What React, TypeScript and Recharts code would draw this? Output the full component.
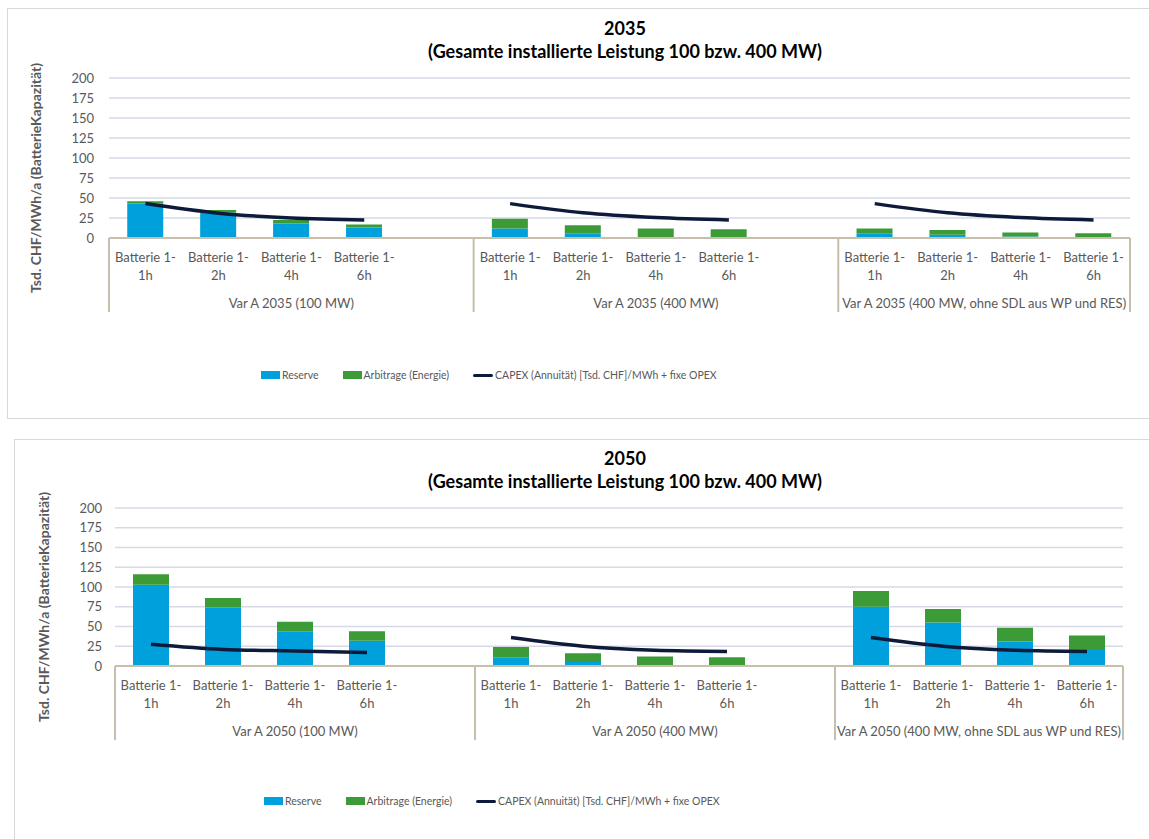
import React from 'react';
import { ComposedChart, Bar, Line, XAxis, YAxis, CartesianGrid, Legend } from 'recharts';

// values (Tsd. CHF/MWh/a)
const durations = ['1h', '2h', '4h', '6h'];
const yTicks = [0, 25, 50, 75, 100, 125, 150, 175, 200];
const seriesNames = ['Reserve', 'Arbitrage (Energie)', 'CAPEX (Annuität) [Tsd. CHF]/MWh + fixe OPEX'];

const groups2035 = ['Var A 2035 (100 MW)', 'Var A 2035 (400 MW)', 'Var A 2035 (400 MW, ohne SDL aus WP und RES)'];
const reserve2035 = [[43, 32, 18, 13], [12, 6, 0, 0], [6, 4, 2, 0.5]];
const arbitrage2035 = [[3, 3, 4.5, 4], [12, 10, 12, 11], [6, 6, 5, 5.5]];
const capex2035 = [[43, 31, 25, 22.5], [43, 31.5, 25.5, 22.5], [43, 31.5, 25.5, 22.5]];

const groups2050 = ['Var A 2050 (100 MW)', 'Var A 2050 (400 MW)', 'Var A 2050 (400 MW, ohne SDL aus WP und RES)'];
const reserve2050 = [[103, 74, 44, 32], [11, 5, 0, 0], [75, 55, 31, 21.5]];
const arbitrage2050 = [[13, 12, 12, 12], [13, 11, 12, 11], [20, 17, 17.5, 17]];
const capex2050 = [[27.5, 21, 19, 17], [36, 25, 20, 18.5], [36, 25, 20, 18.5]];

const COLORS = { reserve: '#00a0dc', arbitrage: '#3d9b37', capex: '#0d1a3a' };
const FONT = 'Lato, "Open Sans", sans-serif';
const TEXT = '#595959';
const AXIS = '#c6bfab';

interface Row {
  id: string;
  dur: string;
  group: number;
  pos: number;
  reserve: number | null;
  arbitrage: number | null;
  capex: number | null;
}

function buildRows(groups: string[], reserve: number[][], arbitrage: number[][], capex: number[][]): Row[] {
  const rows: Row[] = [];
  groups.forEach((g, gi) => {
    durations.forEach((d, di) => {
      rows.push({ id: `${gi}-${d}`, dur: d, group: gi, pos: di, reserve: reserve[gi][di], arbitrage: arbitrage[gi][di], capex: capex[gi][di] });
    });
    // empty slot between the groups
    if (gi < groups.length - 1) {
      rows.push({ id: `${gi}-gap`, dur: '', group: gi, pos: 4, reserve: null, arbitrage: null, capex: null });
    }
  });
  return rows;
}

const makeTick = (rows: Row[], groups: string[]) => (props: any) => {
  const { x, y, payload, width, visibleTicksCount } = props;
  const row = rows[payload.index];
  if (!row) return <g />;
  const slot = width && visibleTicksCount ? width / visibleTicksCount : 73;
  const last = row.group === groups.length - 1;
  const span = last ? durations.length : durations.length + 1;
  const start = x - slot / 2;
  return (
    <g>
      {row.dur && (
        <text x={x} y={y} textAnchor="middle" fill={TEXT} fontSize={13} fontFamily={FONT}>
          <tspan x={x} dy={23.5}>Batterie 1-</tspan>
          <tspan x={x} dy={18}>{row.dur}</tspan>
        </text>
      )}
      {row.pos === 0 && (
        <>
          <line x1={start} x2={start} y1={y} y2={y + 74} stroke={AXIS} strokeWidth={2} />
          <text x={start + (span * slot) / 2} y={y + 69.5} textAnchor="middle" fill={TEXT} fontSize={13} fontFamily={FONT}>
            {groups[row.group]}
          </text>
          {last && <line x1={start + span * slot} x2={start + span * slot} y1={y} y2={y + 74} stroke={AXIS} strokeWidth={2} />}
        </>
      )}
    </g>
  );
};

const renderLegend = (props: any) => {
  const items = [...(props.payload || [])].sort((a: any, b: any) => seriesNames.indexOf(a.value) - seriesNames.indexOf(b.value));
  return (
    <div style={{ display: 'flex', alignItems: 'center', height: 16, fontFamily: FONT, fontSize: 10.5, color: TEXT, whiteSpace: 'nowrap' }}>
      {items.map((e: any, i: number) => (
        <div key={i} style={{ display: 'flex', alignItems: 'center', marginRight: 24 }}>
          {e.type === 'line' ? (
            <span style={{ display: 'inline-block', width: 20, height: 3, borderRadius: 2, background: e.color }} />
          ) : (
            <span style={{ display: 'inline-block', width: 19, height: 8, background: e.color }} />
          )}
          <span style={{ marginLeft: 2 }}>{e.value}</span>
        </div>
      ))}
    </div>
  );
};

interface PanelProps {
  title: string;
  rows: Row[];
  groups: string[];
  top: number;
  height: number;
  margin: { top: number; right: number; bottom: number; left: number };
  yWidth: number;
  yTickMargin: number;
  yTitleDx: number;
  legendLeft: number;
  legendTop: number;
}

const Panel: React.FC<PanelProps> = ({ title, rows, groups, top, height, margin, yWidth, yTickMargin, yTitleDx, legendLeft, legendTop }) => {
  return (
    <div style={{ position: 'absolute', left: 0, top, width: 1149, height }}>
      <div style={{ position: 'absolute', left: 325, top: 17, width: 600, textAlign: 'center', fontFamily: FONT, fontWeight: 700, fontSize: 18, lineHeight: '23px', color: '#000' }}>
        <div>{title}</div>
        <div>(Gesamte installierte Leistung 100 bzw. 400 MW)</div>
      </div>
      <ComposedChart width={1149} height={height} data={rows} margin={margin} barCategoryGap="25%">
        <CartesianGrid vertical={false} stroke="#d5dae6" strokeWidth={1.5} />
        <XAxis
          dataKey="id"
          interval={0}
          height={74}
          tickSize={0}
          tickMargin={0}
          tickLine={false}
          axisLine={{ stroke: AXIS, strokeWidth: 2 }}
          tick={makeTick(rows, groups)}
        />
        <YAxis
          width={yWidth}
          domain={[0, 200]}
          ticks={yTicks}
          interval={0}
          tickSize={0}
          tickMargin={yTickMargin}
          tickLine={false}
          axisLine={false}
          tick={{ fill: TEXT, fontSize: 13, fontFamily: FONT }}
          label={{
            content: (p: any) => {
              const vb = p.viewBox || { x: margin.left, y: margin.top, width: yWidth, height: 160 };
              const cx = vb.x + yTitleDx;
              const cy = vb.y + vb.height / 2 + 20;
              return (
                <text x={cx} y={cy} transform={`rotate(-90, ${cx}, ${cy})`} textAnchor="middle" dominantBaseline="central" fill={TEXT} fontSize={14} fontWeight={700} fontFamily={FONT}>
                  Tsd. CHF/MWh/a (BatterieKapazität)
                </text>
              );
            },
          }}
        />
        <Legend verticalAlign="bottom" content={renderLegend} wrapperStyle={{ left: legendLeft, top: legendTop, bottom: 'auto', width: 'auto' }} />
        <Bar dataKey="reserve" name={seriesNames[0]} stackId="a" fill={COLORS.reserve} isAnimationActive={false} />
        <Bar dataKey="arbitrage" name={seriesNames[1]} stackId="a" fill={COLORS.arbitrage} isAnimationActive={false} />
        <Line dataKey="capex" name={seriesNames[2]} type="monotone" stroke={COLORS.capex} strokeWidth={3.5} dot={false} activeDot={false} legendType="line" isAnimationActive={false} />
      </ComposedChart>
    </div>
  );
};

export default function App() {
  const rows2035 = buildRows(groups2035, reserve2035, arbitrage2035, capex2035);
  const rows2050 = buildRows(groups2050, reserve2050, arbitrage2050, capex2050);
  return (
    <div style={{ position: 'absolute', left: 0, top: 0, width: 1149, height: 839, background: '#fff', overflow: 'hidden' }}>
      <div style={{ position: 'absolute', left: 7, top: 8, width: 1160, height: 409, border: '1px solid #d9d9d9' }} />
      <div style={{ position: 'absolute', left: 14, top: 439, width: 1160, height: 420, border: '1px solid #d9d9d9' }} />
      <Panel
        title="2035"
        rows={rows2035}
        groups={groups2035}
        top={0}
        height={418}
        margin={{ top: 78, right: 19, left: 20, bottom: 90 }}
        yWidth={89}
        yTickMargin={15}
        yTitleDx={15}
        legendLeft={261}
        legendTop={367}
      />
      <Panel
        title="2050"
        rows={rows2050}
        groups={groups2050}
        top={430}
        height={409}
        margin={{ top: 78, right: 26, left: 20, bottom: 83 }}
        yWidth={95}
        yTickMargin={13}
        yTitleDx={23}
        legendLeft={264}
        legendTop={363}
      />
    </div>
  );
}
